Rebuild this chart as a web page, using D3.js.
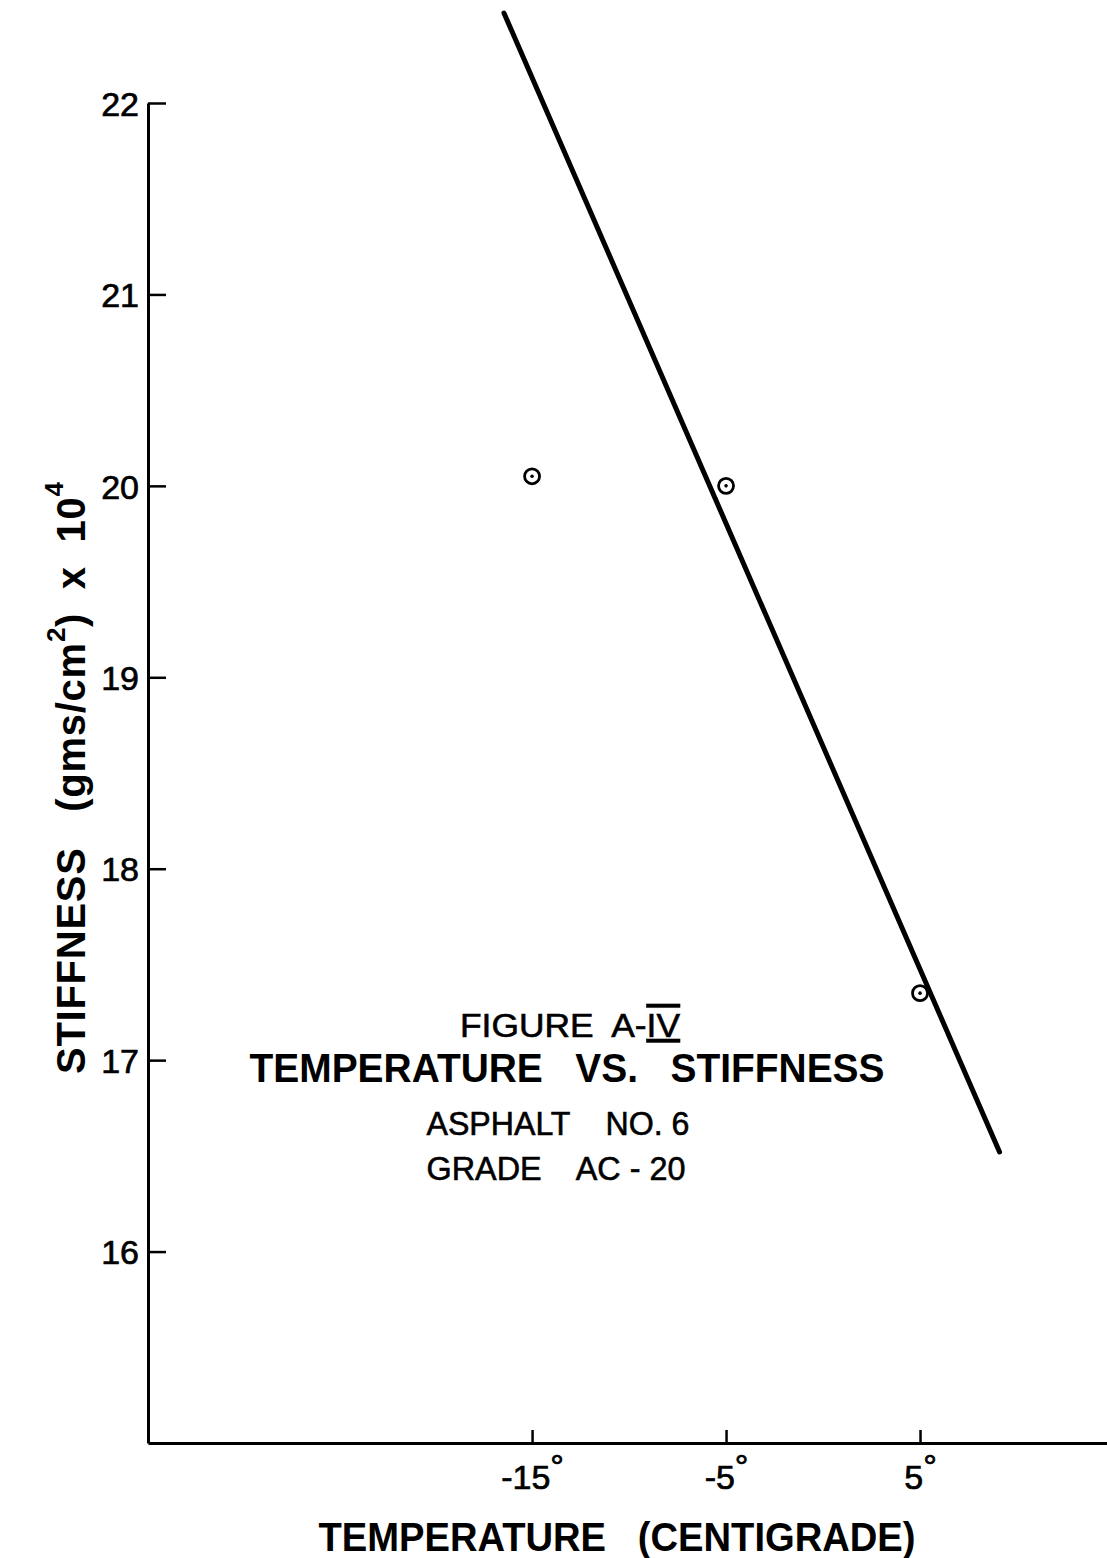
<!DOCTYPE html>
<html>
<head>
<meta charset="utf-8">
<script src="https://cdn.jsdelivr.net/npm/d3@7"></script>
<style>
  body { margin: 0; background: #fff; }
  svg { display: block; }
  text { font-family: 'Liberation Sans', Arial, sans-serif; fill: #000; white-space: pre; }
</style>
</head>
<body>
<div id="chart"></div>
<script>
// data
const temps = [-15, -5, 5];
const stiffness = [20.05, 20.0, 17.35];
// fitted straight line (its two ends)
const fitTemps = [-16.45, 9.1];
const fitStiffness = [22.47, 16.52];
const yTicks = [16, 17, 18, 19, 20, 21, 22];
const xTicks = [-15, -5, 5];
const noteLines = ['TEMPERATURE   VS.   STIFFNESS', 'ASPHALT    NO. 6', 'GRADE    AC - 20'];

const width = 1107, height = 1558;

const svg = d3.select('#chart').append('svg')
  .attr('width', width)
  .attr('height', height);

const x = d3.scaleLinear().domain([-34.8, 15]).range([148, 1114]);
const y = d3.scaleLinear().domain([15, 22]).range([1443, 103]);

// y axis, ticks pointing inward
const yAxis = svg.append('g')
  .attr('transform', `translate(${x(-34.8)},0)`)
  .call(d3.axisLeft(y).tickValues(yTicks).tickSizeInner(-18).tickSizeOuter(0).tickPadding(9).tickFormat(d3.format('d')));

// x axis
const xAxis = svg.append('g')
  .attr('transform', `translate(0,${y(15)})`)
  .call(d3.axisBottom(x).tickValues(xTicks).tickSizeInner(-13).tickSizeOuter(0).tickPadding(22));

[yAxis, xAxis].forEach(g => {
  g.attr('font-size', 34).attr('font-family', null);
  g.select('.domain').attr('stroke', '#000').attr('stroke-width', 3);
  g.selectAll('.tick line').attr('stroke', '#000').attr('stroke-width', 2.5);
  g.selectAll('.tick text')
    .attr('fill', '#000')
    .attr('stroke', '#000')
    .attr('stroke-width', 0.7);
});

yAxis.selectAll('.tick text').attr('dy', '0.36em');

// degree marks on the temperature labels
xAxis.selectAll('.tick text').each(function(d) {
  const t = d3.select(this).text('');
  t.append('tspan').text(d);
  t.append('tspan').attr('font-size', 34).attr('dy', -11).text('°');
});

// fitted line
const line = d3.line().x(d => x(d[0])).y(d => y(d[1]));
svg.append('path')
  .datum(d3.zip(fitTemps, fitStiffness))
  .attr('d', line)
  .attr('fill', 'none')
  .attr('stroke', '#000')
  .attr('stroke-width', 5)
  .attr('stroke-linecap', 'round');

// measured points: ring with a dot in the middle
const pts = svg.append('g')
  .selectAll('g')
  .data(d3.zip(temps, stiffness))
  .enter().append('g')
  .attr('transform', d => `translate(${x(d[0])},${y(d[1])})`);

pts.append('circle')
  .attr('r', 7.5)
  .attr('fill', '#fff')
  .attr('stroke', '#000')
  .attr('stroke-width', 2.8);

pts.append('circle')
  .attr('r', 1.8)
  .attr('fill', '#000');

// axis titles
svg.append('text')
  .attr('transform', `translate(85,${778}) rotate(-90)`)
  .attr('text-anchor', 'middle')
  .attr('font-size', 40)
  .attr('font-weight', 'bold')
  .attr('textLength', 592)
  .attr('lengthAdjust', 'spacing')
  .html('STIFFNESS   (gms/cm<tspan font-size="26" dy="-20">2</tspan><tspan dy="20">)  x  10</tspan><tspan font-size="26" dy="-22">4</tspan>');

svg.append('text')
  .attr('x', 617)
  .attr('y', 1551)
  .attr('text-anchor', 'middle')
  .attr('font-size', 40)
  .attr('font-weight', 'bold')
  .attr('textLength', 597)
  .attr('lengthAdjust', 'spacingAndGlyphs')
  .text('TEMPERATURE   (CENTIGRADE)');

// figure caption inside the plot
const fig = svg.append('text')
  .attr('x', 570)
  .attr('y', 1037)
  .attr('text-anchor', 'middle')
  .attr('font-size', 33)
  .attr('stroke', '#000')
  .attr('stroke-width', 0.6)
  .attr('textLength', 220)
  .attr('lengthAdjust', 'spacingAndGlyphs');
fig.append('tspan').text('FIGURE  A-');
fig.append('tspan').style('text-decoration', 'underline overline').text('IV');

const noteY = [1082, 1135, 1180];
const noteSize = [40, 33, 33];
const noteLen = [635, 263, 259];
const noteX = [567, 558, 556];
noteLines.forEach((s, i) => {
  svg.append('text')
    .attr('x', noteX[i])
    .attr('y', noteY[i])
    .attr('text-anchor', 'middle')
    .attr('font-size', noteSize[i])
    .attr('font-weight', i === 0 ? 'bold' : 'normal')
    .attr('stroke', i === 0 ? 'none' : '#000')
    .attr('stroke-width', 0.6)
    .attr('textLength', noteLen[i])
    .attr('lengthAdjust', 'spacingAndGlyphs')
    .text(s);
});
</script>
</body>
</html>
